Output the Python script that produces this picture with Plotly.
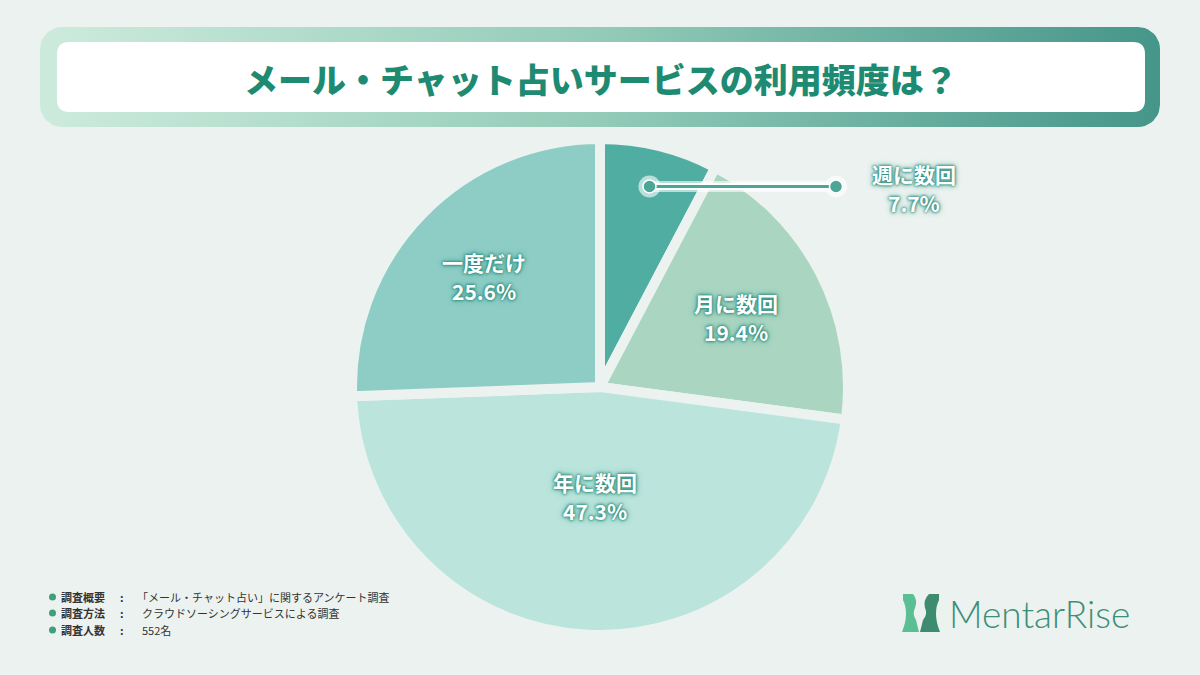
import math
import plotly.graph_objects as go

# ---- data ----
categories = ["週に数回", "月に数回", "年に数回", "一度だけ"]
values = [7.7, 19.4, 47.3, 25.6]
colors = ["#4FAEA1", "#A9D5C1", "#BAE4DC", "#8ECDC6"]
title_text = "メール・チャット占いサービスの利用頻度は？"
note_labels = ["調査概要", "調査方法", "調査人数"]
note_values = ["「メール・チャット占い」に関するアンケート調査", "クラウドソーシングサービスによる調査", "552名"]
brand = "MentarRise"

# ---- layout constants ----
W, H = 1200, 675
BG = "#ECF2EF"
CX, CY, R = 600, 387, 248          # pie centre / radius in px
GAP = 10
LABEL_RF = [0.85, 0.63, 0.45, 0.66]  # radial factor for label placement
TEAL = "#1E8A72"
SHADOW = "0 0 3px #2A8A7A, 0 0 3px #2A8A7A, 0 0 6px #3FA091"


def rrect(x0, y0, x1, y1, r):
    return (f"M{x0+r},{y0} L{x1-r},{y0} Q{x1},{y0} {x1},{y0+r} L{x1},{y1-r} "
            f"Q{x1},{y1} {x1-r},{y1} L{x0+r},{y1} Q{x0},{y1} {x0},{y1-r} "
            f"L{x0},{y0+r} Q{x0},{y0} {x0+r},{y0} Z")


def rrect_pts(x0, y0, x1, y1, r, n=10):
    pts = []
    corners = [(x1 - r, y0 + r, -90, 0), (x1 - r, y1 - r, 0, 90),
               (x0 + r, y1 - r, 90, 180), (x0 + r, y0 + r, 180, 270)]
    for cx, cy, a0, a1 in corners:
        for i in range(n + 1):
            a = math.radians(a0 + (a1 - a0) * i / n)
            pts.append((cx + r * math.cos(a), cy + r * math.sin(a)))
    pts.append(pts[0])
    return [p[0] for p in pts], [p[1] for p in pts]


fig = go.Figure()

# gradient banner frame
bx, by = rrect_pts(40, 27, 1160, 127, 22)
fig.add_trace(go.Scatter(
    x=bx, y=by, mode="lines", fill="toself", line=dict(width=0),
    fillgradient=dict(type="horizontal",
                      colorscale=[[0, "#CDEBDD"], [0.5, "#93CBB8"], [1, "#45968A"]]),
    hoverinfo="skip", showlegend=False))

# pie
fig.add_trace(go.Pie(
    labels=categories, values=values, sort=False, direction="clockwise",
    rotation=0, marker=dict(colors=colors, line=dict(color=BG, width=GAP)),
    textinfo="none", hoverinfo="label+percent", showlegend=False,
    domain=dict(x=[(CX - R) / W, (CX + R) / W], y=[1 - (CY + R) / H, 1 - (CY - R) / H])))

shapes = []
annotations = []

# inner white title box
shapes.append(dict(type="path", path=rrect(57, 42, 1145, 112, 12), xref="x", yref="y",
                   fillcolor="white", line=dict(width=0), layer="above"))
annotations.append(dict(x=601, y=78, xref="x", yref="y", text=title_text,
                        showarrow=False,
                        font=dict(family="Noto Sans CJK JP", size=34, color=TEAL, weight=900)))

# slice labels
total = sum(values)
cum = 0
Rv = R - GAP / 2
lab_font = dict(family="Noto Sans CJK JP", size=21, color="white", shadow=SHADOW, weight=700)
for i, (cat, v) in enumerate(zip(categories, values)):
    mid = (cum + v / 2) / total * 2 * math.pi
    cum += v
    lx = CX + LABEL_RF[i] * Rv * math.sin(mid)
    ly = CY - LABEL_RF[i] * Rv * math.cos(mid)
    if i == 0:
        ex = 836
        shapes.append(dict(type="line", x0=lx, y0=ly, x1=ex, y1=ly, xref="x", yref="y",
                           line=dict(color="rgba(255,255,255,0.6)", width=11), layer="above"))
        shapes.append(dict(type="line", x0=lx, y0=ly, x1=ex, y1=ly, xref="x", yref="y",
                           line=dict(color="rgba(255,255,255,0.95)", width=7), layer="above"))
        for px in (lx, ex):
            shapes.append(dict(type="circle", x0=px - 11, x1=px + 11, y0=ly - 11, y1=ly + 11,
                               xref="x", yref="y", fillcolor="rgba(255,255,255,0.6)",
                               line=dict(width=0), layer="above"))
        shapes.append(dict(type="line", x0=lx, y0=ly, x1=ex, y1=ly, xref="x", yref="y",
                           line=dict(color="#4BA696", width=3), layer="above"))
        for px in (lx, ex):
            shapes.append(dict(type="circle", x0=px - 6.5, x1=px + 6.5, y0=ly - 6.5, y1=ly + 6.5,
                               xref="x", yref="y", fillcolor="#4BA696",
                               line=dict(color="white", width=1.5), layer="above"))
        tx, ty = 914, 188
    else:
        tx, ty = lx, ly
    annotations.append(dict(x=tx, y=ty - 14, xref="x", yref="y", text=cat, showarrow=False,
                            font=lab_font))
    annotations.append(dict(x=tx, y=ty + 15, xref="x", yref="y", text=f"{v:.1f}%",
                            showarrow=False, font=lab_font))

# footnotes
for j, (lab, val) in enumerate(zip(note_labels, note_values)):
    y = 597 + j * 16 + (1 if j == 2 else 0)
    nf = dict(family="Noto Sans CJK JP", size=11, color="#333333")
    shapes.append(dict(type="circle", x0=49, x1=56, y0=y - 3.5, y1=y + 3.5, xref="x", yref="y",
                       fillcolor="#3E9E7E", line=dict(width=0), layer="above"))
    annotations.append(dict(x=59, y=y, xref="x", yref="y", text=f"<b>{lab}</b>", showarrow=False,
                            xanchor="left", font=nf))
    annotations.append(dict(x=122, y=y, xref="x", yref="y", text="<b>:</b>", showarrow=False,
                            xanchor="center", font=nf))
    annotations.append(dict(x=135 if j == 0 else 140, y=y, xref="x", yref="y", text=val,
                            showarrow=False, xanchor="left", font=nf))

# logo icon
shapes.append(dict(type="path", xref="x", yref="y", layer="above", line=dict(width=0),
                   fillcolor="#5CBE93",
                   path="M903,594 L913,594 Q918,600 915,608 Q912,614 916,620 L919,632 L902,632 "
                        "Q906,622 906,614 Q906,606 903,600 Z"))
shapes.append(dict(type="path", xref="x", yref="y", layer="above", line=dict(width=0),
                   fillcolor="#3E8C70",
                   path="M939,594 L929,594 Q923,600 925,608 Q928,614 923,620 L920,632 L940,632 "
                        "Q936,622 936,614 Q936,606 939,600 Z"))
annotations.append(dict(x=947, y=613, xref="x", yref="y", text=brand, showarrow=False,
                        xanchor="left", font=dict(family="Lato", size=37, color="#3C8F78",
                                                  weight=300)))

fig.update_layout(
    width=W, height=H, margin=dict(l=0, r=0, t=0, b=0),
    paper_bgcolor=BG, plot_bgcolor=BG,
    xaxis=dict(range=[0, W], visible=False, fixedrange=True),
    yaxis=dict(range=[H, 0], visible=False, fixedrange=True),
    shapes=shapes, annotations=annotations, showlegend=False)

fig.write_html("out.html", config={"displayModeBar": False},
               post_script="document.body.style.margin='0';document.body.style.background='" + BG + "';")
